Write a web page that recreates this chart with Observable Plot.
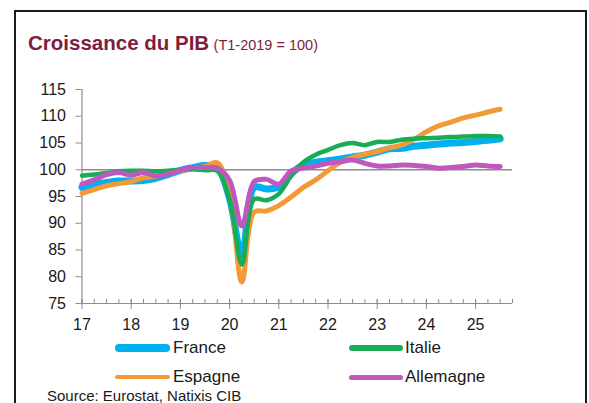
<!DOCTYPE html>
<html><head><meta charset="utf-8">
<script src="https://cdn.jsdelivr.net/npm/d3@7"></script>
<script src="https://cdn.jsdelivr.net/npm/@observablehq/plot@0.6"></script>
<style>
body{margin:0;background:#fff;font-family:"Liberation Sans",Arial,sans-serif;}
#wrap{position:relative;width:589px;height:403px;overflow:hidden;background:#fff;}
#frame{position:absolute;left:14px;top:10px;width:569px;height:420px;border:2px solid #1a1a1a;}
#title{position:absolute;left:28px;top:31px;line-height:24px;color:#7f1d3d;white-space:nowrap;}
#title b{font-size:20.5px;font-weight:bold;}
#title span{font-size:14.5px;}
#chart{position:absolute;left:0;top:0;}
.sw{position:absolute;border-radius:4px;}
.lab{position:absolute;font-size:17px;line-height:20px;color:#1a1a1a;white-space:nowrap;}
#src{position:absolute;left:47px;top:387px;font-size:15px;line-height:18px;color:#1a1a1a;white-space:nowrap;}
</style></head>
<body>
<div id="wrap">
  <div id="frame"></div>
  <div id="title"><b>Croissance du PIB</b> <span>(T1-2019 = 100)</span></div>
  <div id="chart"></div>
  <div id="legend"></div>
  <div id="src">Source: Eurostat, Natixis CIB</div>
</div>
<script>
// Quarterly data, T1-2017 .. T3-2025 (index T1-2019 = 100)
const startYear = 17;
const france = [96.7,97.3,97.6,97.9,97.9,98.0,98.4,99.1,99.9,100.4,100.8,100.4,94.6,84.0,96.7,96.4,96.8,99.3,100.9,101.4,101.7,102.0,102.4,102.7,103.3,103.9,104.0,104.4,104.6,104.8,105.0,105.1,105.3,105.5,105.8];
const italie = [98.9,99.1,99.4,99.7,99.8,99.8,99.7,99.8,100.0,100.1,99.9,99.8,94.5,82.3,94.5,94.3,95.5,98.8,101.4,102.8,103.7,104.6,105.0,104.6,105.2,105.2,105.6,105.8,105.9,106.0,106.1,106.2,106.3,106.3,106.2];
const espagne = [95.6,96.3,97.0,97.4,97.8,98.5,98.8,99.4,99.8,100.2,100.6,101.3,95.5,79.0,92.1,92.3,93.3,94.9,96.7,98.1,99.8,101.4,102.3,102.9,103.4,104.1,104.6,105.7,107.1,108.2,108.9,109.7,110.2,110.8,111.3];
const allemagne = [97.3,98.1,99.1,99.5,99.0,99.5,98.8,99.2,99.9,100.4,100.4,100.3,98.0,89.5,97.8,98.2,97.3,99.8,100.3,100.7,101.2,101.5,101.8,101.2,100.7,100.7,100.9,100.8,100.6,100.3,100.4,100.6,100.9,100.7,100.6];
const seriesNames = ["France","Italie","Espagne","Allemagne"];
const yTicks = [75,80,85,90,95,100,105,110,115];
const yearTicks = [17,18,19,20,21,22,23,24,25];
const quarterTicks = d3.range(17, 25.76, 0.25);

const colors = {France:"#00b0f0", Italie:"#16ad55", Espagne:"#f39a38", Allemagne:"#bf58be"};
const widths = {France:7, Italie:4.5, Espagne:5, Allemagne:5};
const values = {France:france, Italie:italie, Espagne:espagne, Allemagne:allemagne};
const drawOrder = ["France","Espagne","Italie","Allemagne"];

const rows = name => values[name].map((v,i) => ({x: startYear + i/4, y: v, s: name}));
const gray = "#8c8c8c";

const chart = Plot.plot({
  width: 589, height: 340,
  marginLeft: 81.5, marginRight: 77, marginTop: 89, marginBottom: 37,
  x: {domain: [17, 25.75]},
  y: {domain: [75, 115]},
  style: {fontFamily: "Liberation Sans, Arial, sans-serif", fontSize: "16px", color: "#1a1a1a", background: "transparent"},
  marks: [
    Plot.ruleY([100], {stroke: gray, strokeWidth: 1.3}),
    Plot.ruleX([17], {stroke: gray, strokeWidth: 1.2}),
    Plot.ruleY([75], {stroke: gray, strokeWidth: 1.2}),
    Plot.axisY({ticks: yTicks, tickSize: 6, tickPadding: 10, label: null, stroke: gray, fill: "#1a1a1a"}),
    Plot.axisX({ticks: quarterTicks, tickSize: 4, dy: -4, tickFormat: () => "", label: null, stroke: gray}),
    Plot.axisX({ticks: yearTicks, tickSize: 10, dy: -4, tickPadding: 9, tickFormat: d => String(d), label: null, stroke: gray, fill: "#1a1a1a"}),
    ...drawOrder.map(name => Plot.line(rows(name), {x: "x", y: "y", stroke: colors[name], strokeWidth: widths[name], curve: "catmull-rom", strokeLinecap: "round", strokeLinejoin: "round"}))
  ]
});
document.getElementById("chart").appendChild(chart);

// Legend
const legendPos = {
  France: {x: 115, w: 55, y: 348, lx: 173, h: 7.5},
  Italie: {x: 349, w: 54, y: 348, lx: 405, h: 5.5},
  Espagne: {x: 115, w: 55, y: 377, lx: 173, h: 4.5},
  Allemagne: {x: 349, w: 54, y: 377, lx: 405, h: 5}
};
const leg = document.getElementById("legend");
seriesNames.forEach(name => {
  const p = legendPos[name];
  const sw = document.createElement("div");
  sw.className = "sw";
  sw.style.cssText = `left:${p.x}px;top:${p.y - p.h/2}px;width:${p.w}px;height:${p.h}px;background:${colors[name]}`;
  leg.appendChild(sw);
  const lb = document.createElement("div");
  lb.className = "lab";
  lb.style.cssText = `left:${p.lx}px;top:${p.y - 10}px`;
  lb.textContent = name;
  leg.appendChild(lb);
});
</script>
</body></html>
